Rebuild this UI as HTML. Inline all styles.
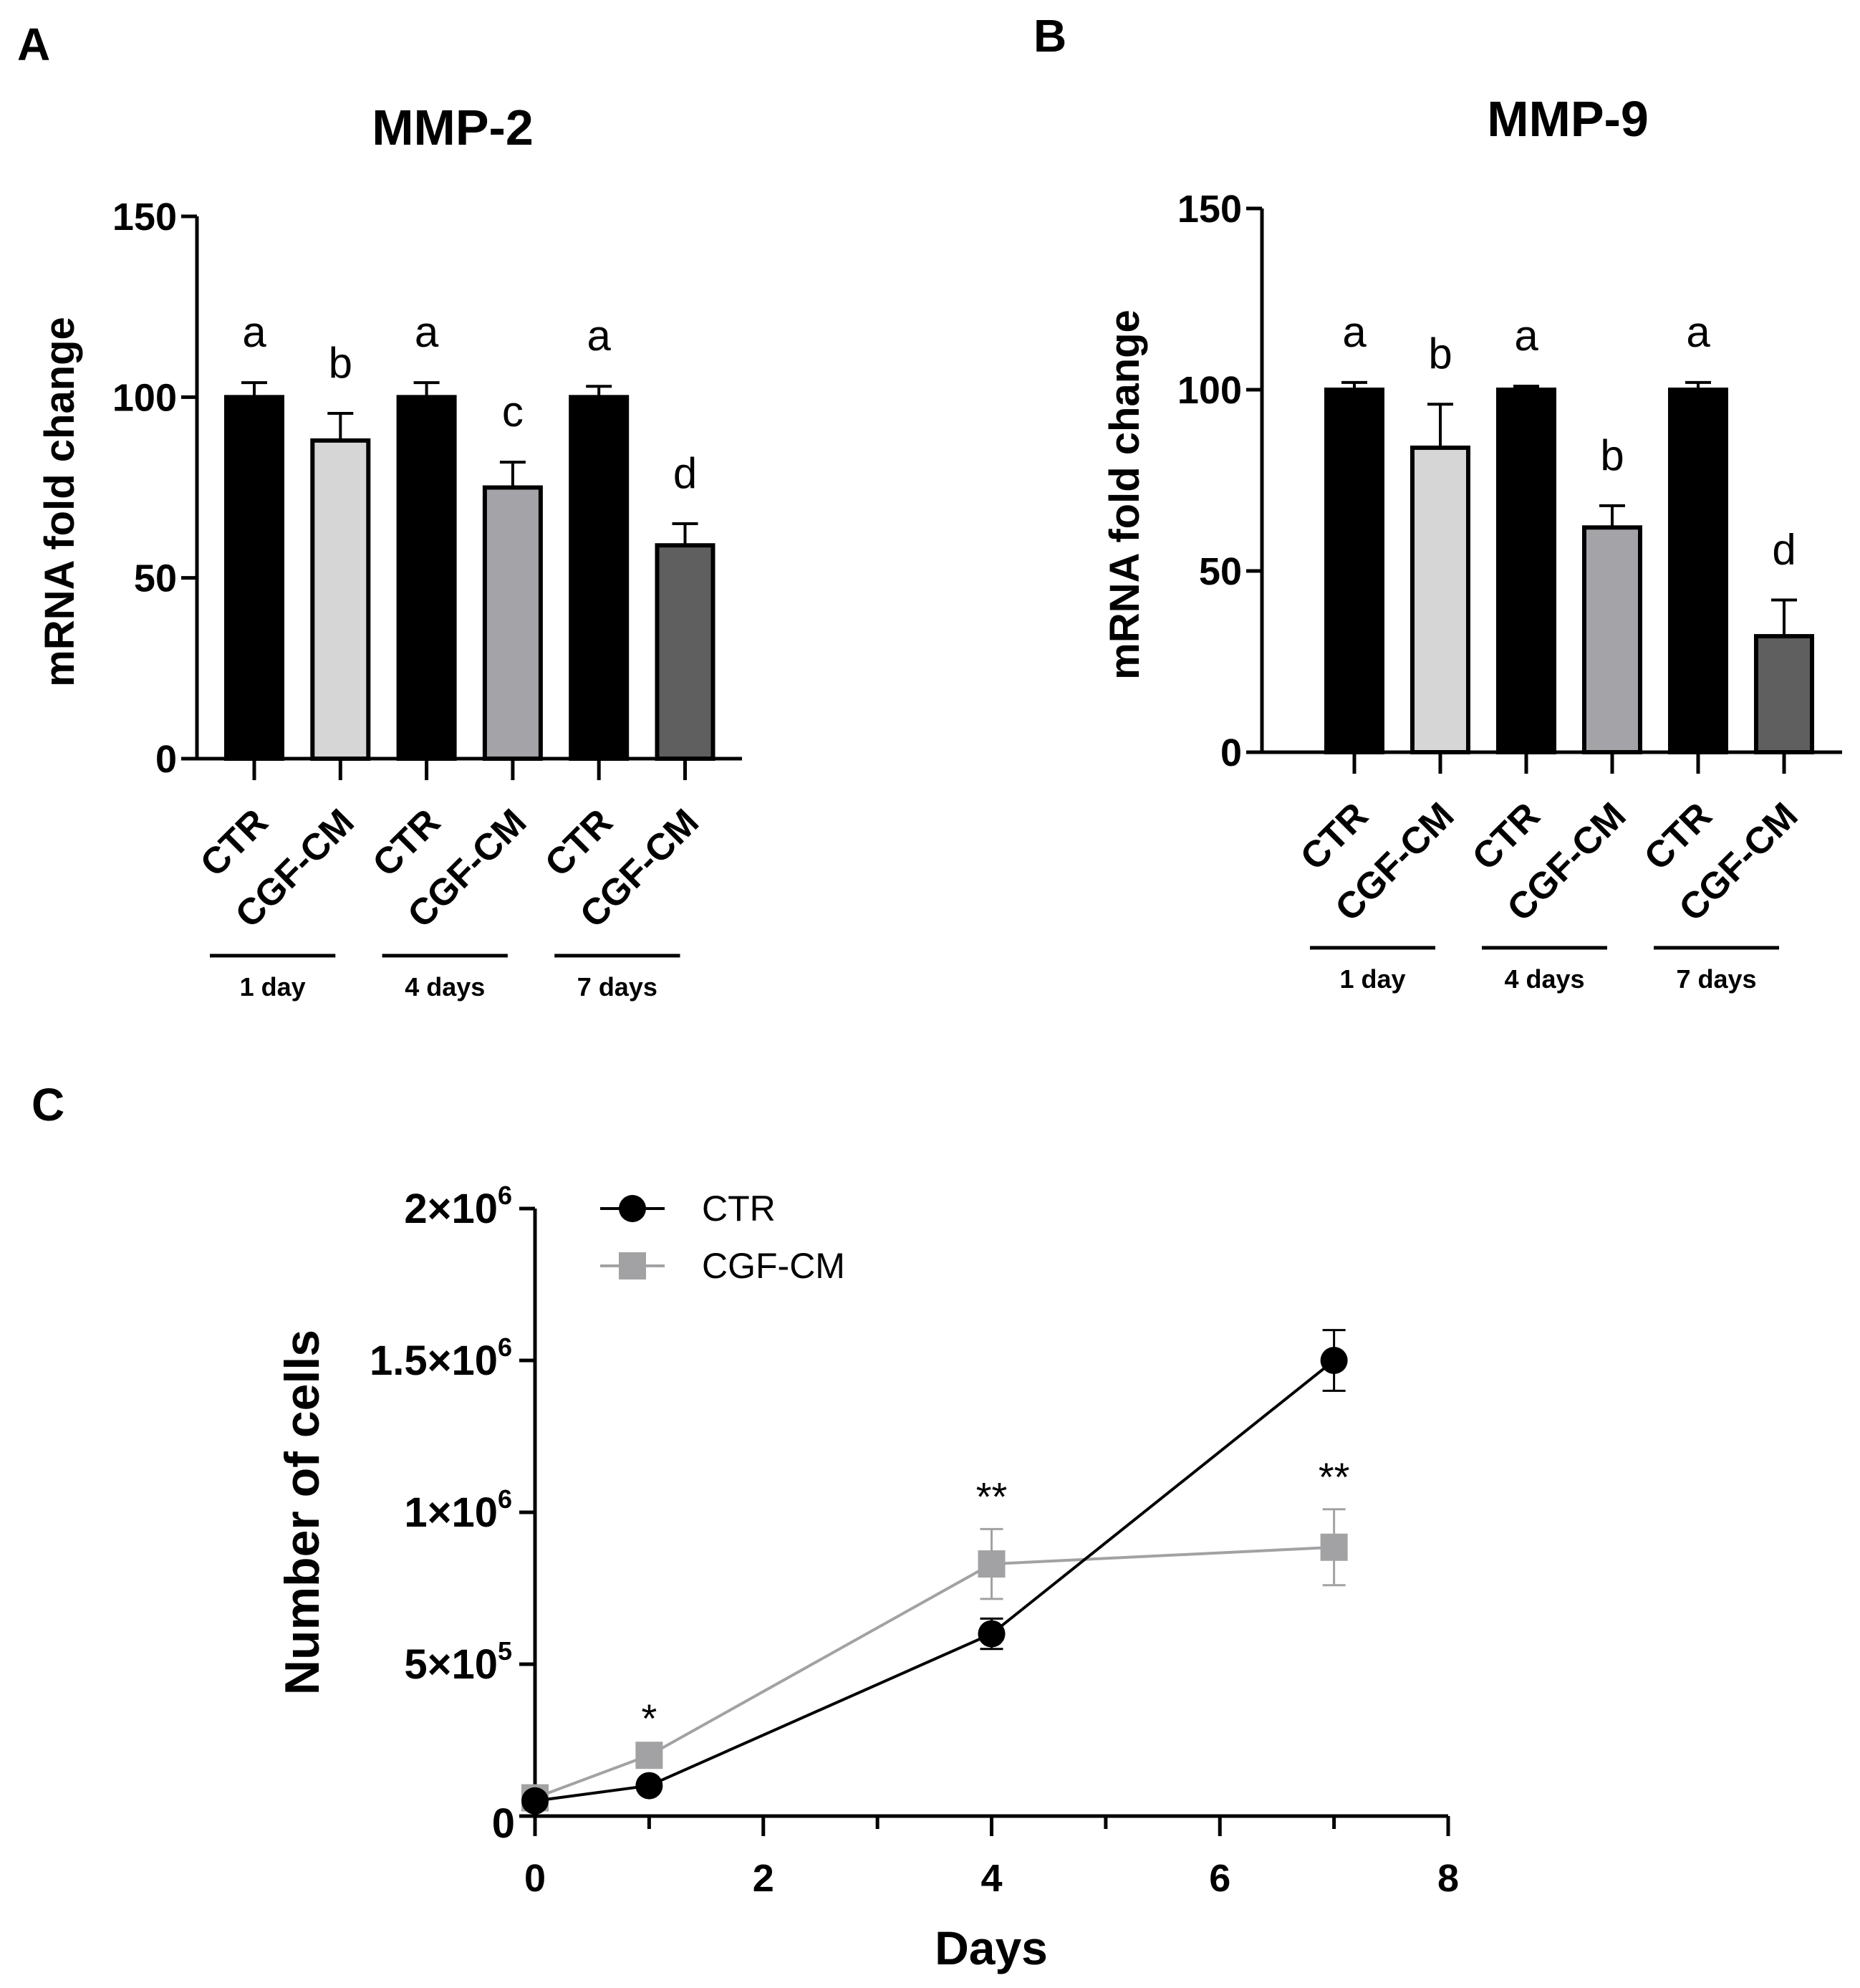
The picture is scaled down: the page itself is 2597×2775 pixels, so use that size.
<!DOCTYPE html>
<html><head><meta charset="utf-8">
<style>
html,body{margin:0;padding:0;background:#fff;}
svg{display:block;font-family:"Liberation Sans",Arial,sans-serif;}
</style></head>
<body>
<svg id="fig" width="2597" height="2775" viewBox="0 0 2597 2775" xmlns="http://www.w3.org/2000/svg">
<rect width="2597" height="2775" fill="#fff"/>
<text x="24" y="84" font-size="64" font-weight="bold">A</text>
<text x="1443" y="72" font-size="64" font-weight="bold">B</text>
<text x="44" y="1564" font-size="64" font-weight="bold">C</text>
<g id="pa"></g>
<g id="pb"></g>
<g id="pc"></g>
</svg>
<script>
const barCategories = ["CTR","CGF-CM","CTR","CGF-CM","CTR","CGF-CM"];
const barGroups = ["1 day","4 days","7 days"];
const barYTicks = [0,50,100,150];
const mmp2Values = [100,88,100,75,100,59];
const mmp2Errors = [4,7.5,4,7,3,6];
const mmp2Letters = ["a","b","a","c","a","d"];
const mmp9Values = [100,84,100,62,100,32];
const mmp9Errors = [2,12,1,6,2,10];
const mmp9Letters = ["a","b","a","b","a","d"];
const barColors = ["#000","#d6d6d6","#000","#a4a4a8","#000","#5f5f5f"];

const growthDays = [0,1,4,7];
const ctrCells = [50000,100000,600000,1500000];
const ctrErr = [10000,10000,50000,100000];
const cgfCells = [60000,200000,830000,885000];
const cgfErr = [10000,15000,115000,125000];
const growthStars = ["","*","**","**"];
const cXTicks = [0,2,4,6,8];
const cYTicks = [0,500000,1000000,1500000,2000000];
const cYTickLabels = [["0",""],["5×10","5"],["1×10","6"],["1.5×10","6"],["2×10","6"]];

const NS="http://www.w3.org/2000/svg";
function mk(parent,tag,attrs,txt){const e=document.createElementNS(NS,tag);for(const k in attrs)e.setAttribute(k,attrs[k]);if(txt!==undefined)e.textContent=txt;parent.appendChild(e);return e;}

function barPanel(gid,title,vals,errs,letters,o){
  const g=document.getElementById(gid);
  const y=v=>o.y0-(v/150)*(o.y0-o.y150);
  const xc=i=>o.x0+i*o.step;
  let t=mk(g,'text',{x:o.titleX,y:o.titleY,'font-size':70,'font-weight':'bold','text-anchor':'middle'},title);
  
  let ax=mk(g,'path',{d:`M${o.ax} ${o.y150} V${o.y0} H${o.axEnd}`,stroke:'#000','stroke-width':5,fill:'none'});
  
  barYTicks.forEach(v=>{
    let l=mk(g,'line',{x1:o.ax-22,x2:o.ax,y1:y(v),y2:y(v),stroke:'#000','stroke-width':5});
    
    let tl=mk(g,'text',{x:o.ax-28,y:y(v)+19,'font-size':54,'font-weight':'bold','text-anchor':'end'},String(v));
    
  });
  let yt=mk(g,'text',{x:0,y:0,'font-size':58,'font-weight':'bold','text-anchor':'middle',transform:`translate(${o.ax-172},${(o.y0+o.y150)/2+20}) rotate(-90)`},'mRNA fold change');
  
  vals.forEach((v,i)=>{
    const bw=78,x=xc(i);
    const eb=mk(g,'path',{d:`M${x} ${y(v)} V${y(v+errs[i])} M${x-18} ${y(v+errs[i])} H${x+18}`,stroke:'#000','stroke-width':4,fill:'none'});
    
    const r=mk(g,'rect',{x:x-bw/2,y:y(v),width:bw,height:y(0)-y(v),fill:barColors[i],stroke:'#000','stroke-width':6});
    
    const lt=mk(g,'text',{x:x,y:y(v+errs[i])-50,'font-size':60,'text-anchor':'middle'},letters[i]);
    
    const tk=mk(g,'line',{x1:x,x2:x,y1:o.y0,y2:o.y0+30,stroke:'#000','stroke-width':5});
    
    const cl=mk(g,'text',{x:0,y:0,'font-size':52,'font-weight':'bold','text-anchor':'end',transform:`translate(${x+22},${o.y0+92}) rotate(-45)`},barCategories[i]);
    
  });
  barGroups.forEach((gname,j)=>{
    const xa=xc(2*j)-62,xb=xc(2*j+1)-7;
    const ln=mk(g,'line',{x1:xa,x2:xb,y1:o.grpY,y2:o.grpY,stroke:'#000','stroke-width':5});
    
    const gl=mk(g,'text',{x:(xa+xb)/2,y:o.grpY+56,'font-size':36,'font-weight':'bold','text-anchor':'middle'},gname);
    
  });
}
barPanel('pa','MMP-2',mmp2Values,mmp2Errors,mmp2Letters,{ax:275,y150:302,y0:1059,axEnd:1036,x0:355,step:120.3,titleX:632,titleY:202,grpY:1334});
barPanel('pb','MMP-9',mmp9Values,mmp9Errors,mmp9Letters,{ax:1762,y150:291,y0:1050,axEnd:2572,x0:1891,step:120,titleX:2189,titleY:190,grpY:1323});

(function(){
  const g=document.getElementById('pc');
  const X0=747,X8=2022,Y0=2535,Y2=1687;
  const x=d=>X0+d/8*(X8-X0);
  const y=v=>Y0-v/2000000*(Y0-Y2);
  let ax=mk(g,'path',{d:`M${X0} ${Y2} V${Y0} H${X8}`,stroke:'#000','stroke-width':5,fill:'none'});
  
  cYTicks.forEach((v,i)=>{
    let l=mk(g,'line',{x1:X0-22,x2:X0,y1:y(v),y2:y(v),stroke:'#000','stroke-width':5});
    
    let t=mk(g,'text',{x:X0-28-(i?24:0),y:y(v)+(i?20:30),'font-size':58,'font-weight':'bold','text-anchor':'end'},cYTickLabels[i][0]);
    
    if(cYTickLabels[i][1]){let s=mk(g,'text',{x:X0-52,y:y(v)-6,'font-size':36,'font-weight':'bold'},cYTickLabels[i][1]);
      }
  });
  for(let d=0;d<=8;d++){
    let l=mk(g,'line',{x1:x(d),x2:x(d),y1:Y0,y2:Y0+(d%2?18:28),stroke:'#000','stroke-width':5});
    
  }
  cXTicks.forEach(d=>{let t=mk(g,'text',{x:x(d),y:2640,'font-size':54,'font-weight':'bold','text-anchor':'middle'},String(d));
    });
  let xt=mk(g,'text',{x:1384,y:2742,'font-size':66,'font-weight':'bold','text-anchor':'middle'},'Days');
  
  let yt=mk(g,'text',{x:0,y:0,'font-size':68,'font-weight':'bold','text-anchor':'middle',transform:`translate(445,2111) rotate(-90)`},'Number of cells');
  
  function series(vals,errs,col,sq,name){
    const sg=mk(g,'g',{});
    
    vals.forEach((v,i)=>{if(i>0){const eb=mk(sg,'path',{d:`M${x(growthDays[i])} ${y(v-errs[i])} V${y(v+errs[i])} M${x(growthDays[i])-16} ${y(v-errs[i])} H${x(growthDays[i])+16} M${x(growthDays[i])-16} ${y(v+errs[i])} H${x(growthDays[i])+16}`,stroke:col,'stroke-width':3,fill:'none'});
      }});
    const ln=mk(sg,'polyline',{points:vals.map((v,i)=>x(growthDays[i])+','+y(v)).join(' '),stroke:col,'stroke-width':4,fill:'none'});
    
    vals.forEach((v,i)=>{let m;
      if(sq)m=mk(sg,'rect',{x:x(growthDays[i])-19,y:y(v)-19,width:38,height:38,fill:col});
      else m=mk(sg,'circle',{cx:x(growthDays[i]),cy:y(v),r:19,fill:col});
      });
  }
  series(cgfCells,cgfErr,'#a2a2a4',true,'cgf-cm');
  series(ctrCells,ctrErr,'#000',false,'ctr');
  growthStars.forEach((s,i)=>{if(!s)return;
    const top=cgfCells[i]+cgfErr[i];
    const t=mk(g,'text',{x:x(growthDays[i]),y:y(top)-26,'font-size':56,'text-anchor':'middle'},s);
    });
  const l1=mk(g,'line',{x1:838,x2:928,y1:1687,y2:1687,stroke:'#000','stroke-width':4});
  
  const c1=mk(g,'circle',{cx:883,cy:1687,r:19,fill:'#000'});
  
  const t1=mk(g,'text',{x:980,y:1704,'font-size':50},'CTR');
  
  const l2=mk(g,'line',{x1:838,x2:928,y1:1767,y2:1767,stroke:'#a2a2a4','stroke-width':4});
  
  const r2=mk(g,'rect',{x:864,y:1748,width:38,height:38,fill:'#a2a2a4'});
  
  const t2=mk(g,'text',{x:980,y:1784,'font-size':50},'CGF-CM');
  
})();
</script>
</body></html>
